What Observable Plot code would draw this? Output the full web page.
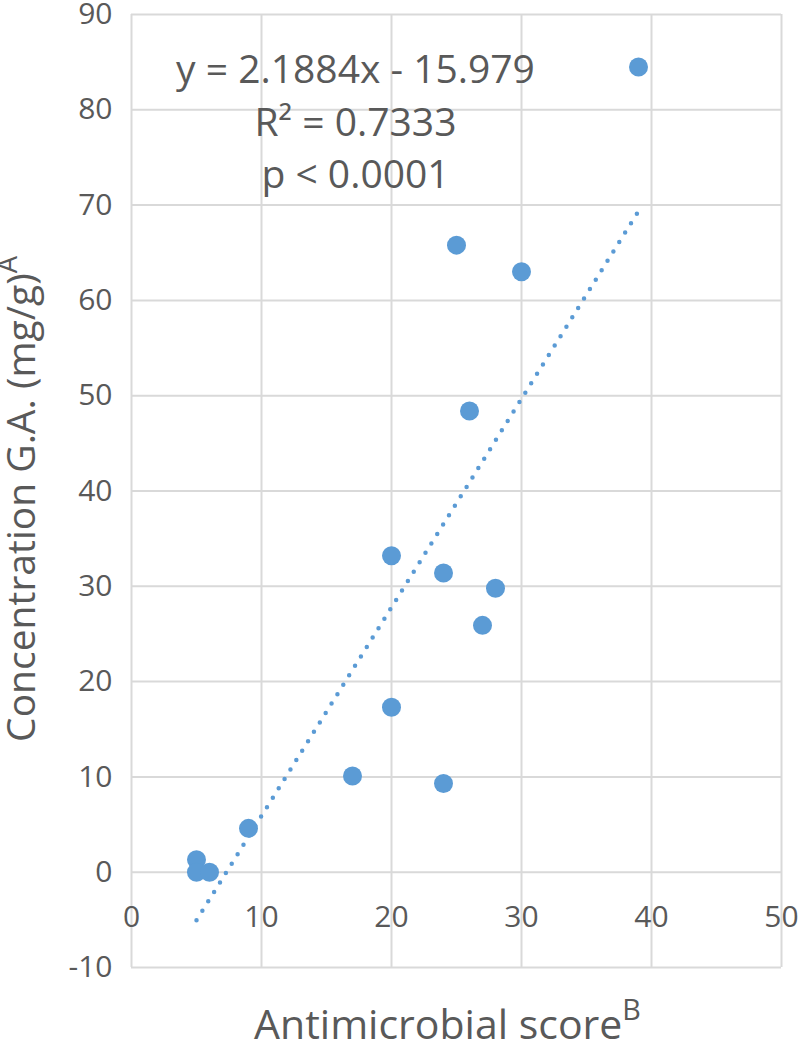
<!DOCTYPE html>
<html>
<head>
<meta charset="utf-8">
<script src="https://cdn.jsdelivr.net/npm/d3@7"></script>
<script src="https://cdn.jsdelivr.net/npm/@observablehq/plot@0.6"></script>
<style>
  html, body { margin: 0; padding: 0; background: #fff; }
  #chart svg { display: block; }
</style>
</head>
<body>
<div id="chart"></div>
<script>
// Data
const scoreX = [39, 25, 30, 26, 20, 24, 28, 27, 20, 17, 24, 9, 5, 5, 6];
const concY  = [84.5, 65.8, 63.0, 48.4, 33.2, 31.4, 29.8, 25.9, 17.3, 10.1, 9.3, 4.6, 1.3, 0, 0];
const xTicks = [0, 10, 20, 30, 40, 50];
const yTicks = [-10, 0, 10, 20, 30, 40, 50, 60, 70, 80, 90];
const slope = 2.1884, intercept = -15.979;
const trendX = [5, 39];
const eqLines = ["y = 2.1884x - 15.979", "R\u00B2 = 0.7333", "p < 0.0001"];
const xTitle = "Antimicrobial score";
const xTitleSup = "B";
const yTitle = "Concentration G.A. (mg/g)";
const yTitleSup = "A";

const points = scoreX.map((x, i) => ({x, y: concY[i]}));
const trend = trendX.map(x => ({x, y: slope * x + intercept}));

const FONT = "'Open Sans', sans-serif";
const TXT = "#595959";
const GRID = "#d9d9d9";
const BLUE = "#5b9bd5";

const chart = Plot.plot({
  width: 800,
  height: 1041,
  marginLeft: 131,
  marginRight: 19,
  marginTop: 14,
  marginBottom: 74,
  style: {fontFamily: FONT, color: TXT, background: "#fff"},
  x: {domain: [0, 50], axis: null},
  y: {domain: [-10, 90]},
  marks: [
    Plot.gridX(xTicks, {stroke: GRID, strokeOpacity: 1, strokeWidth: 2}),
    Plot.gridY(yTicks, {stroke: GRID, strokeOpacity: 1, strokeWidth: 2}),
    Plot.axisY(yTicks, {tickSize: 0, tickPadding: 19, fontSize: 30, fill: TXT, label: null, tickFormat: d => String(d)}),
    Plot.text(xTicks, {x: d => d, y: () => 0, text: d => String(d), dy: 45, fontSize: 30, fill: TXT}),
    Plot.line(trend, {x: "x", y: "y", stroke: BLUE, strokeWidth: 4.5, strokeDasharray: "0 11.1", strokeLinecap: "round"}),
    Plot.dot(points, {x: "x", y: "y", r: 9.5, fill: BLUE, stroke: "none"}),
    Plot.text([eqLines.join("\n")], {frameAnchor: "top-left", dx: 224, dy: 31, text: d => d, fontSize: 39, lineHeight: 1.35, textAnchor: "middle", lineAnchor: "top", fill: TXT}),
    Plot.text([xTitle], {frameAnchor: "bottom", dx: -9, dy: 71, text: d => d, fontSize: 41, fill: TXT, lineAnchor: "bottom", className: "xtitle"}),
    Plot.text([yTitle], {frameAnchor: "left", dx: -97, dy: 8, rotate: -90, text: d => d, fontSize: 39, fill: TXT, textAnchor: "middle", lineAnchor: "bottom", className: "ytitle"})
  ]
});

// add superscripts as real text tspans
function addSup(cls, sup) {
  d3.select(chart).selectAll(`g.${cls} text`).each(function() {
    const t = d3.select(this);
    t.append("tspan").attr("baseline-shift", "super").attr("font-size", "0.7em").text(sup);
  });
}
addSup("xtitle", xTitleSup);
addSup("ytitle", yTitleSup);

document.getElementById("chart").appendChild(chart);
</script>
</body>
</html>
